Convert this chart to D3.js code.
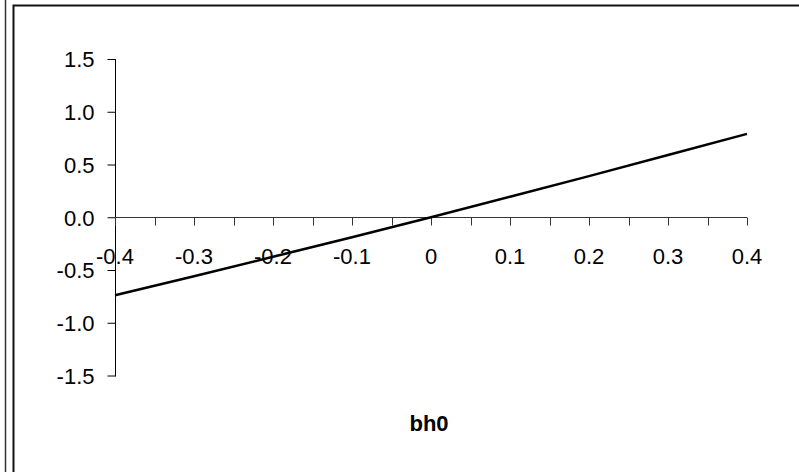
<!DOCTYPE html>
<html>
<head>
<meta charset="UTF-8">
<script src="https://d3js.org/d3.v7.min.js"></script>
<style>
  body { margin: 0; background: #fff; }
  svg text { font-family: "Liberation Sans", Arial, sans-serif; fill: #000; }
</style>
</head>
<body>
<div id="chart"></div>
<script>
  "use strict"
  // valores
  var xs = [-0.4, -0.3, -0.2, -0.1, 0, 0.1, 0.2, 0.3, 0.4];
  var ys = [-0.74, -0.56, -0.375, -0.19, 0, 0.195, 0.39, 0.59, 0.79];
  var xTicks = [-0.4, -0.3, -0.2, -0.1, 0, 0.1, 0.2, 0.3, 0.4];
  var xMinor = d3.range(-8, 9).map(d => d * 0.05);
  var yTicks = [-1.5, -1.0, -0.5, 0.0, 0.5, 1.0, 1.5];
  var tituloX = "bh0";

  var fmt = d => d === 0 ? '0' : d3.format('.1f')(d).replace('\u2212', '-');
  var fmtY = d => d3.format('.1f')(d).replace('\u2212', '-');

  var larguraSVG = 799, alturaSVG = 472;
  var svg = d3.select('#chart').append('svg')
      .attr('width', larguraSVG)
      .attr('height', alturaSVG);

  // moldura
  svg.append('line').attr('x1', 5.5).attr('x2', 5.5).attr('y1', 0).attr('y2', alturaSVG)
    .attr('stroke', '#333').attr('stroke-width', 1.5);
  svg.append('path')
    .attr('d', 'M13.5,' + alturaSVG + 'V5.5H' + (larguraSVG + 2))
    .attr('fill', 'none').attr('stroke', '#111').attr('stroke-width', 2);

  var x = d3.scaleLinear().domain([-0.4, 0.4]).range([115, 747]);
  var y = d3.scaleLinear().domain([-1.5, 1.5]).range([375.5, 59]);

  // eixo y
  var eixoY = svg.append('g').attr('transform', 'translate(115.5,0)')
    .call(d3.axisLeft(y).tickValues(yTicks).tickSize(8).tickPadding(13)
      .tickFormat(fmtY));
  eixoY.select('.domain').remove();
  eixoY.append('line').attr('y1', y(1.5)).attr('y2', y(-1.5) + 1).attr('stroke', '#000');
  eixoY.selectAll('.tick line').attr('stroke', '#000');
  eixoY.selectAll('text').style('font-size', '22px').attr('dy', '0.36em');

  // eixo x (na altura do zero)
  var eixoX = svg.append('g').attr('transform', 'translate(0,' + (Math.round(y(0)) + 0.5) + ')');
  eixoX.append('line').attr('x1', x(-0.4)).attr('x2', x(0.4)).attr('stroke', '#333');
  eixoX.selectAll('.minor').data(xMinor).enter().append('line')
    .attr('x1', d => Math.round(x(d)) + 0.5).attr('x2', d => Math.round(x(d)) + 0.5)
    .attr('y1', 0).attr('y2', 8).attr('stroke', '#333');
  eixoX.selectAll('.lbl').data(xTicks).enter().append('text')
    .attr('x', d => x(d)).attr('y', 46)
    .attr('text-anchor', 'middle')
    .style('font-size', '22px')
    .text(fmt);

  // linha
  var linha = d3.line().x((d, i) => x(xs[i])).y(d => y(d));
  svg.append('path').datum(ys)
    .attr('d', linha)
    .attr('fill', 'none').attr('stroke', '#000').attr('stroke-width', 2.5);

  svg.append('text')
    .attr('x', 429).attr('y', 431)
    .attr('text-anchor', 'middle')
    .style('font-size', '22px').style('font-weight', 'bold')
    .text(tituloX);
</script>
</body>
</html>
